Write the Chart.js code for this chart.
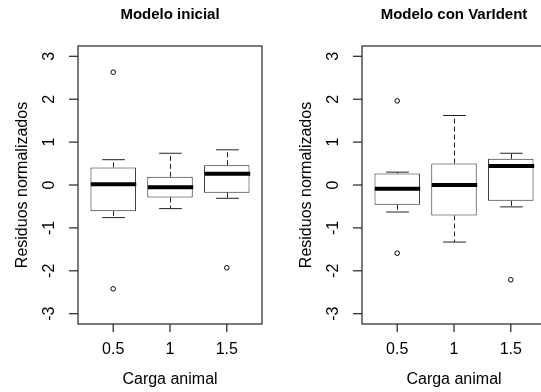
<!DOCTYPE html>
<html>
<head>
<meta charset="utf-8">
<script src="https://cdn.jsdelivr.net/npm/chart.js@4.4.1/dist/chart.umd.min.js"></script>
<style>
  html, body { margin: 0; padding: 0; background: #fff; overflow: hidden; }
  #wrap { position: relative; width: 541px; height: 392px; overflow: hidden; }
  canvas { position: absolute; top: 0; }
</style>
</head>
<body>
<div id="wrap">
  <canvas id="panel-ini" width="284" height="392" style="left:0"></canvas>
  <canvas id="panel-var" width="284" height="392" style="left:284px"></canvas>
</div>
<script>
const groups = ['0.5', '1', '1.5'];
const yTicks = [-3, -2, -1, 0, 1, 2, 3];

// Modelo inicial: whisker ends, quartiles, medians, outliers per group
const iniLow = [-0.76, -0.55, -0.31];
const iniQ1 = [-0.61, -0.29, -0.18];
const iniMed = [0.02, -0.05, 0.26];
const iniQ3 = [0.41, 0.19, 0.46];
const iniHigh = [0.59, 0.74, 0.82];
const iniOut = [[2.63, -2.42], [], [-1.93]];

// Modelo con VarIdent
const varLow = [-0.63, -1.33, -0.51];
const varQ1 = [-0.46, -0.71, -0.37];
const varMed = [-0.09, 0.0, 0.44];
const varQ3 = [0.27, 0.50, 0.61];
const varHigh = [0.30, 1.62, 0.74];
const varOut = [[1.96, -1.59], [], [-2.21]];

const FONT = '"Liberation Sans", Arial, sans-serif';
const INK = '#222';

function seg(ctx, x1, y1, x2, y2) {
  ctx.beginPath();
  ctx.moveTo(x1, y1);
  ctx.lineTo(x2, y2);
  ctx.stroke();
}

const makePanel = (id, title, low, q1, med, q3, high, outliers) => {
  const boxes = groups.map((g, i) => ({ x: i + 1, y: [q1[i], q3[i]] }));
  const points = outliers.flatMap((vals, i) => vals.map(v => ({ x: i + 1, y: v })));

  // whiskers, staples and medians on top of the boxes
  const boxParts = {
    id: 'boxParts',
    afterDatasetsDraw(chart) {
      const { ctx, scales: { x, y } } = chart;
      const half = (x.getPixelForValue(1.4) - x.getPixelForValue(1));
      ctx.save();
      groups.forEach((g, i) => {
        const cx = Math.round(x.getPixelForValue(i + 1)) + 0.5;
        const yLow = y.getPixelForValue(low[i]);
        const yHigh = y.getPixelForValue(high[i]);
        ctx.strokeStyle = INK;
        ctx.lineWidth = 1;
        ctx.setLineDash([5, 3]);
        seg(ctx, cx, y.getPixelForValue(q3[i]), cx, yHigh);
        seg(ctx, cx, y.getPixelForValue(q1[i]), cx, yLow);
        ctx.setLineDash([]);
        seg(ctx, cx - half / 2, yHigh, cx + half / 2, yHigh);
        seg(ctx, cx - half / 2, yLow, cx + half / 2, yLow);
        ctx.strokeStyle = '#000';
        ctx.lineWidth = 4;
        const ym = y.getPixelForValue(med[i]);
        seg(ctx, cx - half, ym, cx + half, ym);
      });
      ctx.restore();
    }
  };

  // frame, axes and titles in base-graphics style
  const frame = {
    id: 'frame',
    afterDraw(chart) {
      const { ctx, chartArea: a, scales: { x, y } } = chart;
      ctx.save();
      ctx.strokeStyle = INK;
      ctx.lineWidth = 1.2;
      ctx.strokeRect(a.left, a.top, a.right - a.left, a.bottom - a.top);

      ctx.fillStyle = '#000';
      ctx.font = '16px ' + FONT;
      yTicks.forEach(t => {
        const py = y.getPixelForValue(t);
        seg(ctx, a.left - 9, py, a.left, py);
        ctx.save();
        ctx.translate(a.left - 24, py);
        ctx.rotate(-Math.PI / 2);
        ctx.textAlign = 'center';
        ctx.textBaseline = 'alphabetic';
        ctx.fillText(String(t), 0, 0);
        ctx.restore();
      });
      groups.forEach((g, i) => {
        const px = x.getPixelForValue(i + 1);
        seg(ctx, px, a.bottom, px, a.bottom + 8);
        ctx.textAlign = 'center';
        ctx.textBaseline = 'alphabetic';
        ctx.fillText(g, px, 354);
      });

      const cx = (a.left + a.right) / 2;
      ctx.fillText('Carga animal', cx, 384);
      ctx.save();
      ctx.translate(27, (a.top + a.bottom) / 2);
      ctx.rotate(-Math.PI / 2);
      ctx.fillText('Residuos normalizados', 0, 0);
      ctx.restore();

      ctx.font = 'bold 15px ' + FONT;
      ctx.fillText(title, cx, 19);
      ctx.restore();
    }
  };

  return new Chart(document.getElementById(id), {
    type: 'bar',
    data: {
      datasets: [
        {
          type: 'bar',
          data: boxes,
          backgroundColor: '#fff',
          borderColor: INK,
          borderWidth: 1,
          borderSkipped: false,
          barPercentage: 0.8,
          categoryPercentage: 1
        },
        {
          type: 'scatter',
          data: points,
          pointRadius: 2.3,
          pointBackgroundColor: 'rgba(0,0,0,0)',
          pointBorderColor: '#000',
          pointBorderWidth: 1
        }
      ]
    },
    options: {
      responsive: false,
      animation: false,
      layout: { padding: { left: 78, right: 22, top: 46, bottom: 68 } },
      scales: {
        x: { type: 'linear', min: 0.38, max: 3.62, offset: false, grid: { offset: false }, display: false },
        y: { min: -3.24, max: 3.24, display: false }
      },
      plugins: {
        legend: { display: false },
        tooltip: { enabled: false }
      }
    },
    plugins: [boxParts, frame]
  });
};

makePanel('panel-ini', 'Modelo inicial', iniLow, iniQ1, iniMed, iniQ3, iniHigh, iniOut);
makePanel('panel-var', 'Modelo con VarIdent', varLow, varQ1, varMed, varQ3, varHigh, varOut);
</script>
</body>
</html>
